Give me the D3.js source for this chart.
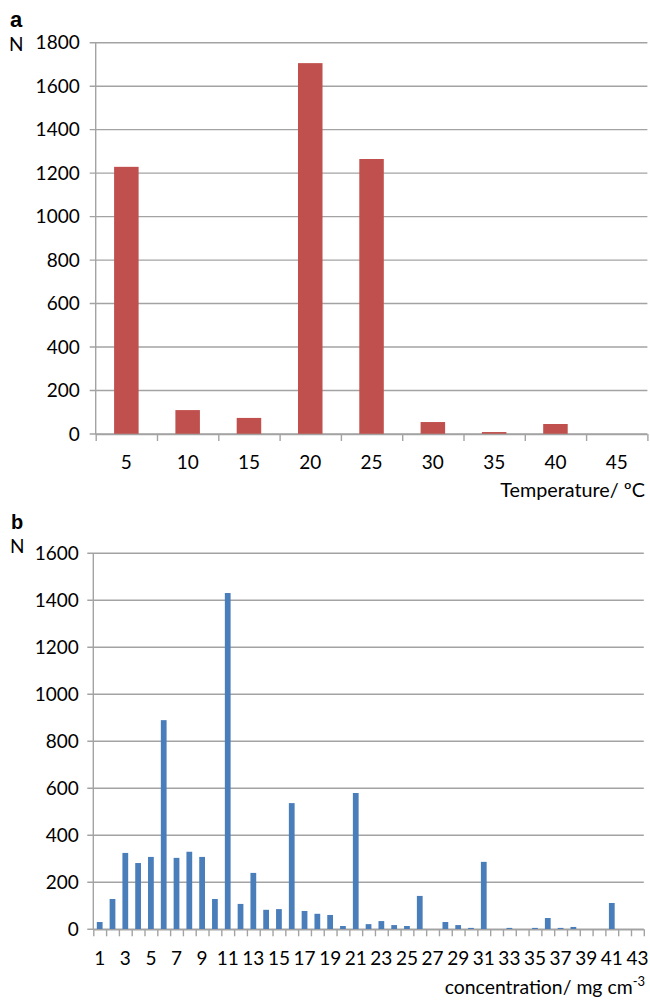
<!DOCTYPE html>
<html>
<head>
<meta charset="utf-8">
<script src="https://cdn.jsdelivr.net/npm/d3@7"></script>
<style>
  html, body { margin: 0; padding: 0; background: #fff; }
  svg text { font-family: Lato, "Open Sans", sans-serif; fill: #000; }
</style>
</head>
<body>
<svg id="chart" width="650" height="1000"></svg>
<script>
// ---- Data: panel a ----
const tempCategories = ["5", "10", "15", "20", "25", "30", "35", "40", "45"];
const tempValues = [1229, 110, 74, 1706, 1265, 55, 9, 46, 0];
const tempYTicks = [0, 200, 400, 600, 800, 1000, 1200, 1400, 1600, 1800];

// ---- Data: panel b ----
const concCategories = d3.range(1, 44).map(String);
const concValues = [31, 129, 325, 282, 308, 890, 304, 330, 308, 129,
                    1431, 108, 240, 83, 86, 537, 78, 66, 61, 14,
                    580, 22, 35, 18, 14, 142, 0, 31, 18, 6,
                    287, 0, 6, 0, 6, 48, 6, 10, 0, 0,
                    112, 0, 0];
const concYTicks = [0, 200, 400, 600, 800, 1000, 1200, 1400, 1600];
const concXTickLabels = concCategories.filter((d, i) => i % 2 === 0);

const svg = d3.select("#chart");
const GRID = "#a3a3a3";

function panel(cfg) {
  const g = svg.append("g");
  const x = d3.scaleBand().domain(cfg.cats).range([cfg.x0, cfg.x1])
    .paddingInner(cfg.pad).paddingOuter(cfg.pad / 2);
  const y = d3.scaleLinear().domain([0, cfg.yMax]).range([cfg.y0, cfg.y1]);
  const edge = d3.scaleLinear().domain([0, cfg.cats.length]).range([cfg.x0, cfg.x1]);

  g.append("g").selectAll("line").data(cfg.yTicks).join("line")
    .attr("x1", cfg.x0 - 6).attr("x2", cfg.x1)
    .attr("y1", d => y(d)).attr("y2", d => y(d))
    .attr("stroke", GRID).attr("stroke-width", 1.4);

  g.append("line").attr("x1", cfg.x0).attr("x2", cfg.x0)
    .attr("y1", y(cfg.yMax)).attr("y2", cfg.y0)
    .attr("stroke", GRID).attr("stroke-width", 1.4);

  const yAxis = d3.axisLeft(y).tickValues(cfg.yTicks).tickFormat(d3.format("d"))
    .tickSize(0).tickPadding(cfg.yPad);
  const ya = g.append("g").attr("transform", `translate(${cfg.x0},0)`).call(yAxis);
  ya.select(".domain").remove();
  ya.selectAll("text").style("font-size", cfg.fs + "px").style("font-family", "Lato, sans-serif");

  g.append("g").selectAll("rect").data(cfg.vals).join("rect")
    .attr("x", (d, i) => x(cfg.cats[i]))
    .attr("width", x.bandwidth())
    .attr("y", d => y(d))
    .attr("height", d => cfg.y0 - y(d))
    .attr("fill", cfg.color);

  const xTickAxis = d3.axisBottom(edge).tickValues(d3.range(0, cfg.cats.length + 1))
    .tickSize(7).tickFormat("");
  const xt = g.append("g").attr("transform", `translate(0,${cfg.y0})`).call(xTickAxis);
  xt.select(".domain").attr("stroke", GRID).attr("stroke-width", 1.4)
    .attr("d", `M${cfg.x0},0.5H${cfg.x1}`);
  xt.selectAll(".tick line").attr("stroke", GRID).attr("stroke-width", 1.4);

  const xLabAxis = d3.axisBottom(x).tickValues(cfg.xLabels).tickSize(0).tickPadding(cfg.xPad);
  const xl = g.append("g").attr("transform", `translate(0,${cfg.y0})`).call(xLabAxis);
  xl.select(".domain").remove();
  xl.selectAll("text").style("font-size", cfg.fs + "px").style("font-family", "Lato, sans-serif");

  return g;
}

panel({
  cats: tempCategories, vals: tempValues, yTicks: tempYTicks, yMax: 1800,
  x0: 95.7, x1: 647.4, y0: 434, y1: 42.7, pad: 0.6, color: "#C0504D",
  yPad: 16, xPad: 21.5, fs: 19, xLabels: tempCategories
});

panel({
  cats: concCategories, vals: concValues, yTicks: concYTicks, yMax: 1600,
  x0: 93.3, x1: 643.8, y0: 929.3, y1: 553.3, pad: 0.55, color: "#4A7EBB",
  yPad: 14.5, xPad: 22.2, fs: 19, xLabels: concXTickLabels
});

svg.append("text").attr("x", 10).attr("y", 27).text("a")
  .style("font-family", "'Liberation Sans', Arial, sans-serif").style("font-weight", "bold").style("font-size", "22px");
svg.append("text").attr("x", 9).attr("y", 51).text("N").style("font-size", "19px");

svg.append("text").attr("x", 11).attr("y", 529).text("b")
  .style("font-family", "'Liberation Sans', Arial, sans-serif").style("font-weight", "bold").style("font-size", "20px");
svg.append("text").attr("x", 10).attr("y", 553).text("N").style("font-size", "19px");

svg.append("text").attr("x", 645).attr("y", 497).attr("text-anchor", "end")
  .style("font-size", "19.8px").text("Temperature/ ºC");

const ct = svg.append("text").attr("x", 645).attr("y", 994).attr("text-anchor", "end")
  .style("font-size", "19.4px");
ct.append("tspan").text("concentration/ mg cm");
ct.append("tspan").attr("dy", -8).style("font-size", "13px").text("-3");
</script>
</body>
</html>
